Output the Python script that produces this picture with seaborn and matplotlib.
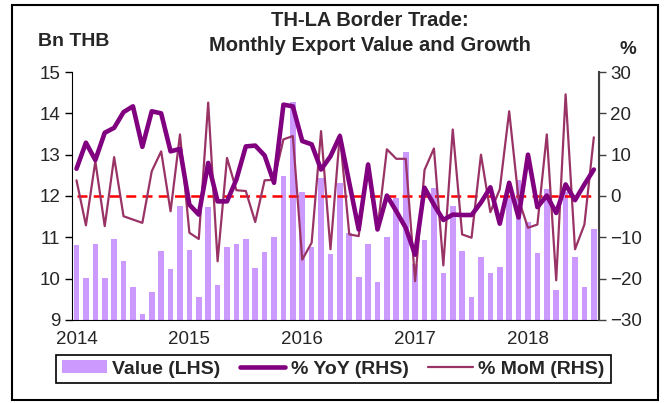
import pandas as pd
import matplotlib
matplotlib.use('Agg')
import matplotlib.pyplot as plt
from matplotlib.patches import Patch, Rectangle
from matplotlib.lines import Line2D
import seaborn as sns

# monthly data Jan 2014 - Aug 2018
value = [10.81, 10.02, 10.85, 10.02, 10.96, 10.43, 9.80, 9.14, 9.67, 10.66, 10.23, 11.76,
         10.69, 9.56, 11.73, 9.85, 10.76, 10.85, 10.96, 10.26, 10.64, 11.02, 12.49, 14.27,
         12.09, 10.76, 12.44, 10.60, 12.31, 11.10, 10.05, 10.85, 9.93, 11.02, 11.95, 13.06,
         10.36, 10.94, 12.19, 10.13, 11.76, 10.66, 9.56, 10.53, 10.13, 10.28, 12.00, 12.39,
         11.37, 10.61, 12.16, 9.73, 12.10, 10.53, 9.80, 11.19]
yoy = [6.6, 12.9, 8.7, 15.3, 16.5, 20.3, 21.7, 11.9, 20.5, 20.0, 10.8, 11.4,
       -2.1, -4.5, 8.0, -1.3, -1.3, 4.0, 12.0, 12.2, 9.8, 3.2, 22.1, 21.7,
       13.3, 12.5, 6.4, 9.6, 14.5, 3.2, -8.1, 7.6, -8.1, 0.1, -3.7, -7.7,
       -14.2, 2.0, -2.1, -5.8, -4.5, -4.6, -4.6, -1.6, 2.1, -6.7, 3.2, -5.2,
       10.0, -2.7, 0.1, -4.1, 2.8, -1.0, 2.8, 6.4]
mom = [3.8, -7.1, 8.4, -7.3, 9.4, -4.9, -5.7, -6.5, 6.0, 10.8, -3.7, 14.9,
       -8.9, -10.4, 22.6, -15.8, 9.2, 1.4, 1.2, -6.3, 3.8, 3.9, 13.7, 14.5,
       -15.4, -11.3, 15.7, -12.9, 14.9, -9.3, -9.7, 7.9, -8.1, 11.3, 9.0, 9.0,
       -20.6, 6.3, 11.5, -16.8, 16.1, -9.3, -10.1, 10.0, -3.9, 1.6, 20.5, -0.8,
       -7.7, -6.9, 14.9, -20.4, 24.6, -12.9, -6.9, 14.2]
years = ['2014', '2015', '2016', '2017', '2018']

bar_color = '#CC99FF'
yoy_color = '#800080'
mom_color = '#993366'

sns.set_style('white')
plt.rcParams['font.family'] = ['Liberation Sans', 'DejaVu Sans']

df = pd.DataFrame({'month': list(range(len(value))), 'value': value, 'yoy': yoy, 'mom': mom})
n = len(df)

fig = plt.figure(figsize=(6.68, 4.03), dpi=100)
ax = fig.add_axes([0.1075, 0.206, 0.7885, 0.6153])
sns.barplot(data=df, x='month', y='value', color=bar_color, saturation=1,
            width=0.6, linewidth=0, ax=ax)
ax.set_ylim(9, 15)

ax2 = ax.twinx()
ax2.hlines(0, 0, n - 1, colors='#FF0000', linestyles=(0, (4, 2.5)), lw=1.8, zorder=1)
sns.lineplot(data=df, x='month', y='mom', color=mom_color, lw=1.6, ax=ax2, zorder=2)
sns.lineplot(data=df, x='month', y='yoy', color=yoy_color, lw=3.3, ax=ax2, zorder=3)
ax2.set_ylim(-30, 30)
ax2.set_yticks(range(-30, 31, 10))
ax.set_xlim(-0.5, n - 0.5)

year_pos = [12 * k for k in range(len(years))]
ax.set_xticks(year_pos)
ax.set_xticklabels(years)
ax.set_xticks([p - 0.5 for p in year_pos], minor=True)
ax.tick_params(axis='x', which='major', length=0, pad=8, labelsize=13.5)
ax.tick_params(axis='x', which='minor', length=5, width=1, direction='out', color='black')
ax.tick_params(axis='y', length=5, width=1, direction='out', color='black', labelsize=13.5, left=True)
ax2.tick_params(axis='y', length=5, width=1, direction='out', color='#404040', labelsize=13.5, right=True)
for a in (ax, ax2):
    a.set_xlabel('')
    a.set_ylabel('')
    a.spines['top'].set_visible(False)
ax.spines['left'].set_color('black')
ax.spines['bottom'].set_color('black')
ax2.spines['right'].set_color('#404040')
ax2.spines['right'].set_linewidth(1.5)
ax2.spines['left'].set_visible(False)
ax2.spines['bottom'].set_visible(False)

fig.text(0.554, 0.950, 'TH-LA Border Trade:', ha='center', va='center',
         fontsize=14.5, fontweight='bold')
fig.text(0.554, 0.887, 'Monthly Export Value and Growth', ha='center', va='center',
         fontsize=14.5, fontweight='bold')
fig.text(38 / 668, 1 - 42 / 403, 'Bn THB', ha='left', va='center', fontsize=14, fontweight='bold')
fig.text(628 / 668, 1 - 50 / 403, '%', ha='center', va='center', fontsize=13.5, fontweight='bold')

handles = [Patch(facecolor=bar_color, edgecolor='none'),
           Line2D([], [], color=yoy_color, lw=3.3),
           Line2D([], [], color=mom_color, lw=1.6)]
labels = ['Value (LHS)', '% YoY (RHS)', '% MoM (RHS)']
leg = fig.legend(handles, labels, loc='center', bbox_to_anchor=(0.499, 0.0844), ncol=3,
                 frameon=True, fancybox=False, edgecolor='black', framealpha=1,
                 prop={'weight': 'bold', 'size': 14}, handlelength=2.3, handleheight=0.6,
                 handletextpad=0.3, columnspacing=1.0, borderpad=0.3, borderaxespad=0)
leg.get_frame().set_linewidth(1.2)

fig.patches.append(Rectangle((12 / 668, 3 / 403), 646 / 668, 395 / 403, transform=fig.transFigure,
                             fill=False, edgecolor='black', lw=1.5))

fig.savefig('out.png', dpi=100)
